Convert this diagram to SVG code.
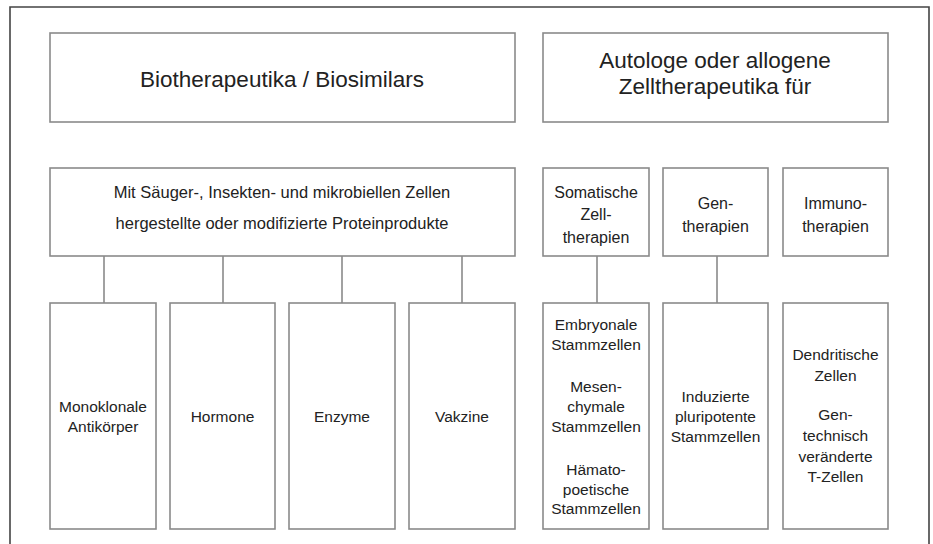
<svg xmlns="http://www.w3.org/2000/svg" width="933" height="544" viewBox="0 0 933 544">
<style>
.box{fill:#fff;stroke:#8a8a8a;stroke-width:1.6}
.con{stroke:#8a8a8a;stroke-width:1.6;fill:none}
text{font-family:"Liberation Sans",Arial,sans-serif;fill:#222;text-anchor:middle}
.t1{font-size:22.5px}
.t2{font-size:16.5px}
.t3{font-size:16px}
.t4{font-size:15.5px}
</style>
<rect x="0" y="0" width="933" height="544" fill="#fff"/>
<path d="M10,544 V7 H929 V544" fill="none" stroke="#444" stroke-width="1.6"/>
<g id="connectors">
<path class="con" d="M104,256 V303 M223,256 V303 M342,256 V303 M462,256 V303 M597,256 V303 M717,256 V303"/>
</g>
<g id="bio">
<rect class="box" x="50" y="33" width="465" height="89"/>
<text class="t1" x="282" y="87">Biotherapeutika / Biosimilars</text>
</g>
<g id="zell">
<rect class="box" x="543" y="33" width="345" height="89"/>
<text class="t1" x="715" y="68">Autologe oder allogene</text>
<text class="t1" x="715" y="94">Zelltherapeutika für</text>
</g>
<g id="protein">
<rect class="box" x="50" y="168" width="465" height="88"/>
<text class="t2" x="282" y="198">Mit Säuger-, Insekten- und mikrobiellen Zellen</text>
<text class="t2" x="282" y="229">hergestellte oder modifizierte Proteinprodukte</text>
</g>
<g id="somatisch">
<rect class="box" x="543" y="168" width="106" height="88"/>
<text class="t3" x="596" y="198">Somatische</text>
<text class="t3" x="596" y="220">Zell-</text>
<text class="t3" x="596" y="243">therapien</text>
</g>
<g id="gen">
<rect class="box" x="663" y="168" width="105" height="88"/>
<text class="t3" x="715.5" y="209">Gen-</text>
<text class="t3" x="715.5" y="232">therapien</text>
</g>
<g id="immuno">
<rect class="box" x="783" y="168" width="105" height="88"/>
<text class="t3" x="835.5" y="209">Immuno-</text>
<text class="t3" x="835.5" y="232">therapien</text>
</g>
<g id="antikoerper">
<rect class="box" x="50" y="303" width="106" height="226"/>
<text class="t4" x="103" y="412">Monoklonale</text>
<text class="t4" x="103" y="432">Antikörper</text>
</g>
<g id="hormone">
<rect class="box" x="170" y="303" width="105" height="226"/>
<text class="t4" x="222.5" y="422">Hormone</text>
</g>
<g id="enzyme">
<rect class="box" x="289" y="303" width="106" height="226"/>
<text class="t4" x="342" y="422">Enzyme</text>
</g>
<g id="vakzine">
<rect class="box" x="409" y="303" width="106" height="226"/>
<text class="t4" x="462" y="422">Vakzine</text>
</g>
<g id="stammzellen">
<rect class="box" x="543" y="303" width="106" height="226"/>
<text class="t4" x="596" y="330">Embryonale</text>
<text class="t4" x="596" y="350">Stammzellen</text>
<text class="t4" x="596" y="392">Mesen-</text>
<text class="t4" x="596" y="412">chymale</text>
<text class="t4" x="596" y="432">Stammzellen</text>
<text class="t4" x="596" y="475">Hämato-</text>
<text class="t4" x="596" y="495">poetische</text>
<text class="t4" x="596" y="514">Stammzellen</text>
</g>
<g id="ips">
<rect class="box" x="663" y="303" width="105" height="226"/>
<text class="t4" x="715.5" y="402">Induzierte</text>
<text class="t4" x="715.5" y="422">pluripotente</text>
<text class="t4" x="715.5" y="442">Stammzellen</text>
</g>
<g id="dendritisch">
<rect class="box" x="783" y="303" width="105" height="226"/>
<text class="t4" x="835.5" y="360">Dendritische</text>
<text class="t4" x="835.5" y="381">Zellen</text>
<text class="t4" x="835.5" y="420">Gen-</text>
<text class="t4" x="835.5" y="441">technisch</text>
<text class="t4" x="835.5" y="462">veränderte</text>
<text class="t4" x="835.5" y="482">T-Zellen</text>
</g>
</svg>
